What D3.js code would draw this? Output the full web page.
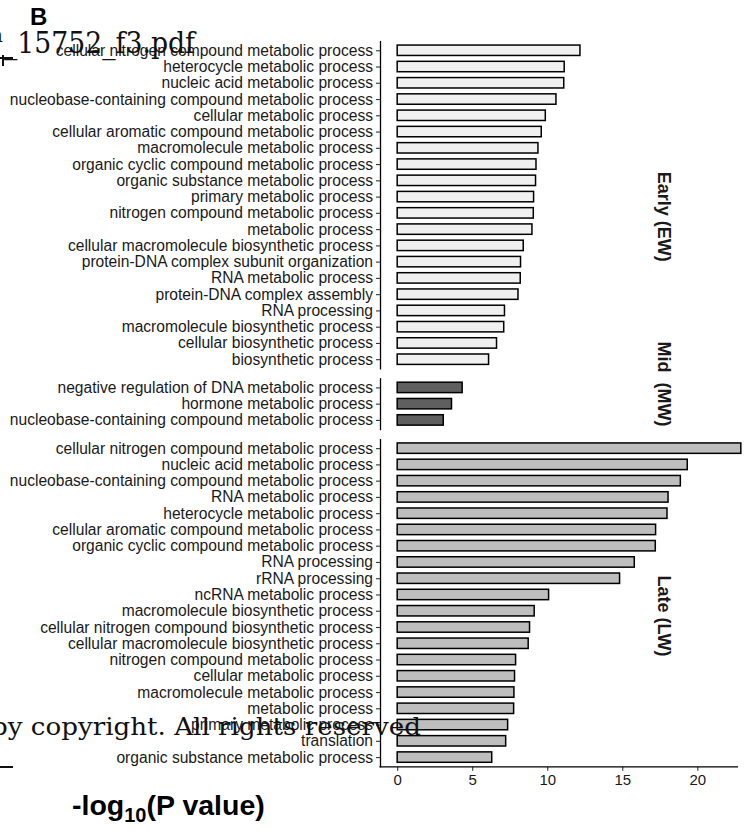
<!DOCTYPE html>
<html>
<head>
<meta charset="utf-8">
<script src="https://cdn.jsdelivr.net/npm/d3@7"></script>
<style>
  html, body { margin: 0; padding: 0; background: #fff; }
  svg { display: block; }
  text { font-family: "Liberation Sans", Arial, Helvetica, sans-serif; }
</style>
</head>
<body>
<div id="chart"></div>
<script>
// ---------- data ----------
const earlyCats = [
  "cellular nitrogen compound metabolic process",
  "heterocycle metabolic process",
  "nucleic acid metabolic process",
  "nucleobase-containing compound metabolic process",
  "cellular metabolic process",
  "cellular aromatic compound metabolic process",
  "macromolecule metabolic process",
  "organic cyclic compound metabolic process",
  "organic substance metabolic process",
  "primary metabolic process",
  "nitrogen compound metabolic process",
  "metabolic process",
  "cellular macromolecule biosynthetic process",
  "protein-DNA complex subunit organization",
  "RNA metabolic process",
  "protein-DNA complex assembly",
  "RNA processing",
  "macromolecule biosynthetic process",
  "cellular biosynthetic process",
  "biosynthetic process"
];
const earlyVals = [12.18, 11.13, 11.1, 10.58, 9.87, 9.6, 9.38, 9.25, 9.22, 9.09,
                   9.07, 8.98, 8.4, 8.22, 8.2, 8.05, 7.15, 7.1, 6.62, 6.09];

const midCats = [
  "negative regulation of DNA metabolic process",
  "hormone metabolic process",
  "nucleobase-containing compound metabolic process"
];
const midVals = [4.33, 3.62, 3.07];

const lateCats = [
  "cellular nitrogen compound metabolic process",
  "nucleic acid metabolic process",
  "nucleobase-containing compound metabolic process",
  "RNA metabolic process",
  "heterocycle metabolic process",
  "cellular aromatic compound metabolic process",
  "organic cyclic compound metabolic process",
  "RNA processing",
  "rRNA processing",
  "ncRNA metabolic process",
  "macromolecule biosynthetic process",
  "cellular nitrogen compound biosynthetic process",
  "cellular macromolecule biosynthetic process",
  "nitrogen compound metabolic process",
  "cellular metabolic process",
  "macromolecule metabolic process",
  "metabolic process",
  "primary metabolic process",
  "translation",
  "organic substance metabolic process"
];
const lateVals = [22.9, 19.33, 18.87, 18.05, 17.98, 17.22, 17.2, 15.8, 14.82, 10.09,
                  9.13, 8.82, 8.73, 7.89, 7.82, 7.78, 7.76, 7.36, 7.23, 6.3];

const panelLabels = ["Early (EW)", "Mid  (MW)", "Late (LW)"];
const xTicks = [0, 5, 10, 15, 20];
const xTitleMain = "-log";
const xTitleSub = "10";
const xTitleRest = "(P value)";

// ---------- layout ----------
const W = 746, H = 831;
const axisX = 380;
const step = 16.26;
const gap = 8.7;
const top0 = 40.5;

const panels = [
  { cats: earlyCats, vals: earlyVals, fill: "#f0f0f0", label: panelLabels[0], labelY: 216.7 },
  { cats: midCats,   vals: midVals,   fill: "#5f5f5f", label: panelLabels[1], labelY: 384 },
  { cats: lateCats,  vals: lateVals,  fill: "#bebebe", label: panelLabels[2], labelY: 616 }
];

const svg = d3.select("#chart").append("svg")
  .attr("width", W).attr("height", H)
  .attr("viewBox", `0 0 ${W} ${H}`);

// x scale with ggplot-like 5% expansion
const xMax = d3.max(lateVals.concat(earlyVals, midVals));
const ex = xMax * 0.05;
const x = d3.scaleLinear().domain([-ex, xMax + ex]).range([axisX, axisX + (xMax + 2 * ex) * 15.006]);

let yTop = top0;
panels.forEach((p, i) => {
  const h = (p.cats.length + 0.2) * step;
  const y = d3.scalePoint().domain(p.cats).range([yTop, yTop + h]).padding(0.6);
  const g = svg.append("g");
  const bh = step * 0.64;

  g.selectAll("rect").data(p.cats.map((c, j) => ({ c, v: p.vals[j] })))
    .join("rect")
    .attr("x", x(0))
    .attr("y", d => y(d.c) - bh / 2)
    .attr("width", d => x(d.v) - x(0))
    .attr("height", bh)
    .attr("fill", p.fill)
    .attr("stroke", "#000")
    .attr("stroke-width", 1.5);

  const ax = g.append("g")
    .attr("transform", `translate(${axisX},0)`)
    .call(d3.axisLeft(y).tickSize(4).tickSizeOuter(0).tickPadding(3));
  ax.select(".domain").attr("stroke", "#000").attr("stroke-width", 1.3);
  ax.selectAll(".tick line").attr("stroke", "#333").attr("stroke-width", 1.1);
  ax.selectAll(".tick text")
    .attr("fill", "#1a1a1a")
    .style("font-size", "15.6px")
    .style("font-family", "'Liberation Sans', Arial, sans-serif");

  // facet strip label
  svg.append("text")
    .attr("transform", `translate(663.5,${p.labelY}) rotate(90)`)
    .attr("text-anchor", "middle")
    .attr("dominant-baseline", "central")
    .style("font-size", "18px")
    .style("font-weight", "bold")
    .style("white-space", "pre")
    .attr("fill", "#1a1a1a")
    .text(p.label);

  if (i === panels.length - 1) {
    const bottom = yTop + h;
    const xa = svg.append("g")
      .attr("transform", `translate(0,${bottom})`)
      .call(d3.axisBottom(x).tickValues(xTicks).tickSize(4).tickSizeOuter(0).tickPadding(4));
    xa.select(".domain").remove();
    xa.selectAll(".tick line").attr("stroke", "#333").attr("stroke-width", 1.1);
    xa.selectAll(".tick text")
      .attr("fill", "#1a1a1a")
      .style("font-size", "15px")
      .style("font-family", "'Liberation Sans', Arial, sans-serif");
    svg.append("line")
      .attr("x1", axisX - 0.6).attr("x2", 738)
      .attr("y1", bottom).attr("y2", bottom)
      .attr("stroke", "#000").attr("stroke-width", 1.3);
  }
  yTop += h + gap;
});

// x-axis title
const title = svg.append("text")
  .attr("x", 72).attr("y", 815)
  .style("font-size", "28.5px")
  .style("font-weight", "bold")
  .attr("fill", "#000");
title.append("tspan").text(xTitleMain);
title.append("tspan").attr("dy", 7).style("font-size", "20px").text(xTitleSub);
title.append("tspan").attr("dy", -7).text(xTitleRest);

// panel letter
svg.append("text")
  .attr("x", 30).attr("y", 25)
  .style("font-size", "24px").style("font-weight", "bold")
  .attr("fill", "#000")
  .text("B");

// overlapping page artefacts from the source PDF viewer
svg.append("text")
  .attr("x", 4).attr("y", 53)
  .style("font-family", "'DejaVu Serif', 'Liberation Serif', serif")
  .style("font-size", "30px")
  .attr("textLength", 191).attr("lengthAdjust", "spacingAndGlyphs")
  .attr("fill", "#111")
  .text("_15752_f3.pdf");
svg.append("text")
  .attr("x", -9).attr("y", 42)
  .style("font-family", "'DejaVu Serif', 'Liberation Serif', serif")
  .style("font-size", "20px")
  .attr("fill", "#111")
  .text("a");
svg.append("path")
  .attr("d", "M0,58 H13 M3,55 V66")
  .attr("stroke", "#111").attr("stroke-width", 2).attr("fill", "none");

svg.append("text")
  .attr("x", -9).attr("y", 735)
  .style("font-family", "'DejaVu Serif', 'Liberation Serif', serif")
  .style("font-size", "25px")
  .attr("textLength", 430).attr("lengthAdjust", "spacingAndGlyphs")
  .attr("fill", "#111")
  .text("by copyright. All rights reserved");
svg.append("line")
  .attr("x1", 0).attr("x2", 13).attr("y1", 767).attr("y2", 767)
  .attr("stroke", "#111").attr("stroke-width", 2);
</script>
</body>
</html>
